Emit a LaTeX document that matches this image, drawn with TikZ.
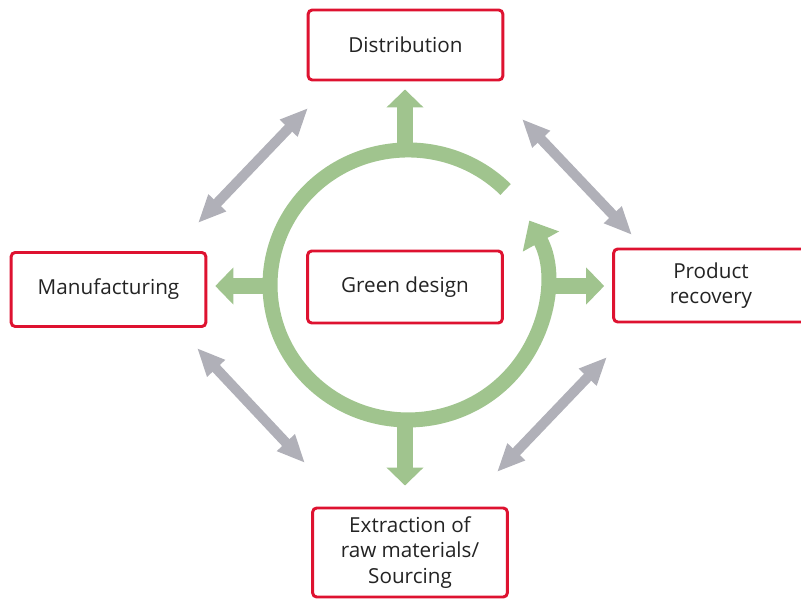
\documentclass[tikz,border=0pt]{standalone}
\usepackage{fontspec}
\setmainfont{Open Sans}
\usetikzlibrary{arrows.meta}
\usetikzlibrary{positioning}

\definecolor{boxred}{RGB}{222,18,48}
\definecolor{leaf}{RGB}{160,196,142}
\definecolor{steel}{RGB}{176,176,184}
\definecolor{ink}{RGB}{35,35,35}

\begin{document}
\begin{tikzpicture}[x=0.75pt,y=-0.75pt,
    stage/.style={draw=boxred,line width=2.2pt,rounded corners=3pt,fill=white,
      text=ink,align=center,inner sep=0pt,minimum width=146pt,
      font=\fontsize{15.5}{19}\selectfont},
    flow/.style={leaf,line width=11.5pt,-{Triangle[width=27pt,length=13.5pt]},shorten >=6pt},
    ring/.style={leaf,line width=11.25pt,-{Triangle[width=30pt,length=18pt]}},
    link/.style={steel,line width=7.5pt,{Triangle[width=17pt,length=21pt]}-{Triangle[width=17pt,length=21pt]}}]
    \useasboundingbox (0,0) rectangle (801,599);

    \node[stage,minimum height=52.5pt] (dist) at (405.5,45) {Distribution};
    \node[stage,minimum height=55.5pt] (manu) at (108.5,289.5) {Manufacturing};
    \node[stage,minimum height=54pt] (green) at (405,287) {Green design};
    \node[stage,minimum height=54.75pt] (prod) at (711,285.5) {Product\\recovery};
    \node[stage,minimum height=66.75pt] (extr) at (410,552.5) {Extraction of\\raw materials/\\Sourcing};

    \coordinate (hub) at (408,285);
    \path (hub) +(-3,-135) coordinate (rN) +(-3,135) coordinate (rS)
                +(-138,1) coordinate (rW) +(138,1) coordinate (rE);

    \draw[flow] (rN) -- (rN |- dist.south);
    \draw[flow] (rW) -- (rW -| manu.east);
    \draw[flow] (rE) -- (rE -| prod.west);
    \draw[flow,shorten >=15.75pt] (rS) -- (rS |- extr.north);
    \draw[ring] ([shift={(97.6,-95.5)}]hub) arc[start angle=-45,end angle=-388.5,x radius=138,y radius=135];

    \coordinate (tl1) at (198,223); \coordinate (tl2) at (308,108);
    \coordinate (tr1) at (522,119); \coordinate (tr2) at (632,235);
    \coordinate (bl1) at (197,348); \coordinate (bl2) at (305,463);
    \coordinate (br1) at (497,472); \coordinate (br2) at (607,357);
    \foreach\p in {tl,tr,bl,br}
      \draw[link] (\p1) -- (\p2);
\end{tikzpicture}
\end{document}
